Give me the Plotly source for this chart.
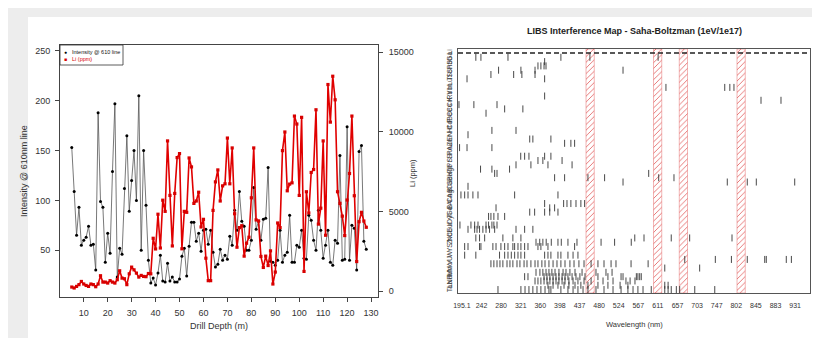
import numpy as np
import plotly.graph_objects as go

# ---------------- Left panel data ----------------
depth = list(range(5, 129))
intensity = [
    153, 109, 65, 93, 55, 60, 63, 74, 55, 56,
    30, 188, 99, 93, 38, 67, 47, 129, 197, 23,
    52, 46, 112, 165, 89, 120, 150, 100, 205, 50,
    150, 95, 40, 17, 22, 15, 27, 45, 19, 18,
    37, 19, 23, 18, 18, 21, 44, 52, 24, 54,
    78, 78, 59, 67, 49, 70, 71, 56, 70, 48,
    33, 36, 51, 40, 45, 41, 64, 55, 90, 70,
    109, 79, 74, 50, 50, 60, 113, 71, 79, 60,
    81, 82, 133, 39, 38, 35, 40, 70, 38, 45,
    48, 85, 38, 38, 55, 53, 70, 42, 41, 85,
    80, 60, 50, 90, 70, 42, 55, 70, 38, 35,
    60, 57, 145, 40, 41, 174, 40, 75, 72, 30,
    149, 155, 59, 51,
]
li_ppm = [
    250, 190, 290, 400, 600, 440, 350, 290, 440, 400,
    270, 440, 960, 560, 560, 500, 650, 560, 500, 710,
    1270, 810, 770, 400, 1080, 1500, 1330, 1125, 875, 980,
    915, 900, 1100, 1080, 3310, 2640, 4820, 2700, 5700, 5000,
    9420, 6000, 2830, 6125, 8375, 8625, 2650, 5000, 4940, 8350,
    7790, 5500, 5650, 6200, 4020, 4500, 2060, 650, 650, 5060,
    6850, 7600, 5650, 6600, 6730, 9600, 6730, 8980, 4850, 2750,
    3980, 4100, 2190, 3000, 3375, 5850, 8980, 4460, 4400, 2170,
    1480, 2190, 1600, 2520, 440, 1190, 4270, 3980, 8810, 9980,
    6290, 6710, 6790, 10980, 10480, 6000, 10900, 1230, 6230, 4900,
    7440, 7625, 11375, 4200, 5200, 9420, 3500, 12960, 10600, 13480,
    12000, 6230, 5500, 4700, 3480, 5710, 7375, 10980, 5980, 1850,
    4350, 4940, 4390, 4000,
]
left_xticks = [10, 20, 30, 40, 50, 60, 70, 80, 90, 100, 110, 120, 130]
left_yticks = [50, 100, 150, 200, 250]
right_yticks = [0, 5000, 10000, 15000]

# ---------------- Right panel data ----------------
wl_tick_labels = ["195.1", "242", "280", "321", "360", "398", "437", "480", "524",
                  "567", "611", "657", "703", "747", "802", "845", "883", "931"]
wl_tick_nm = [195.1, 242, 280, 321, 360, 398, 437, 480, 524,
              567, 611, 657, 703, 747, 802, 845, 883, 931]
li_lines_nm = [460.3, 610.4, 670.8, 812.6]

elements = ["Li", "Ga", "Sb", "Pb", "Sn", "Sc", "Tl", "Lu", "In", "Yb", "Rb", "K", "Cr",
            "Cs", "Ce", "Be", "P", "Cd", "Hf", "Ni", "Er", "Zn", "Au", "Re", "Sr", "Si",
            "Pr", "Tb", "Hg", "Ba", "Ge", "Ca", "Bi", "Ag", "Cu", "Al", "B", "Gd", "Ti",
            "Dy", "Ir", "Eu", "Co", "Nb", "Zr", "S", "Y", "W", "U", "V", "Mo", "Mn",
            "Fe", "Nd", "La", "Ta"]

# interfering line positions (spectral bin units, one bin per axis label)
interference = {
    "Ga": [0.71, 0.97, 2.35, 5.05, 6.53, 10.01],
    "Sb": [4.22],
    "Pb": [3.88, 4.03, 4.19, 4.29],
    "Sn": [1.87, 3.01, 3.73, 8.22],
    "Sc": [1.48, 2.64, 3.06, 3.73],
    "Tl": [0.26, 4.22],
    "In": [10.41, 13.41, 13.67, 13.88],
    "Rb": [4.22],
    "K": [15.26, 16.28],
    "Cr": [-0.15, 0.61, 1.79],
    "Cs": [2.18, 3.11],
    "Ce": [1.23],
    "Hf": [1.53, 2.76],
    "Ni": [0.31],
    "Er": [3.46, 3.62, 4.54],
    "Zn": [5.24, 5.56, 5.75],
    "Au": [-0.12, 0.26, 1.53],
    "Sr": [3.00, 3.20, 3.42, 4.22, 4.54],
    "Si": [3.88, 4.13, 5.11],
    "Pr": [2.76, 3.52, 4.39, 5.62],
    "Tb": [0.95, 1.53, 2.43],
    "Hg": [1.67, 1.79, 9.53],
    "Ba": [4.73, 5.24, 6.43, 7.28, 10.04, 10.82],
    "Ge": [8.22, 13.54, 14.56, 15.02, 16.98],
    "Ca": [0.31],
    "Ag": [-0.05, 0.14, 0.31, 0.56, 0.82, 2.69, 4.90],
    "Al": [4.22, 5.19, 5.36, 5.56, 5.82, 6.07, 6.26],
    "B": [1.74, 4.48, 4.73],
    "Gd": [3.46, 3.71, 4.22, 4.48, 4.90],
    "Ti": [1.36, 1.48, 1.63, 1.84, 2.18],
    "Ir": [-0.10, 0.46, 0.65, 0.82, 1.23, 1.36, 1.53, 1.63, 1.79],
    "Eu": [0.31, 0.65, 0.77, 0.90, 1.07, 1.23, 1.41, 1.67, 2.76, 3.20, 3.62],
    "Nb": [0.71, 0.90, 1.16, 2.09, 2.60, 3.01, 8.82, 9.29, 10.68, 11.62, 13.78],
    "Zr": [3.78, 3.97, 4.13, 4.30, 4.56, 4.90, 5.07, 5.41, 5.87, 7.10, 7.79, 8.64],
    "S": [0.14, 0.31, 0.90, 0.97, 1.58, 1.74, 1.99, 2.18, 2.35, 2.60, 2.69, 2.86,
          3.01, 3.20, 3.37, 3.88, 4.03, 4.39, 5.75],
    "W": [0.14, 0.71, 1.92, 2.18, 2.35, 2.52, 2.69, 2.86, 3.01, 3.20, 4.22, 4.39,
          4.54, 4.90, 5.05, 5.41, 5.67, 5.92],
    "U": [11.37, 12.93, 13.75, 14.56, 15.45, 15.53, 16.55, 16.81],
    "V": [1.48, 1.63, 1.79, 1.94, 2.09, 2.30, 2.45, 2.60, 2.81, 2.96, 3.17, 3.32,
          3.52, 3.73, 3.88, 4.08, 4.24, 4.44, 4.65, 4.85, 5.05, 5.26, 5.51, 5.72,
          5.97, 6.23, 6.59, 6.94, 7.25, 7.61, 7.86, 8.63, 9.50],
    "Mo": [10.35, 12.13],
    "Mn": [3.78, 3.98, 4.13, 4.29, 4.44, 4.59, 4.75, 4.95, 5.16, 5.31, 5.51, 5.77,
           6.13, 6.84, 7.35, 7.66],
    "Fe": [3.20, 3.37, 4.19, 4.34, 4.49, 4.65, 4.80, 4.95, 5.11, 5.26, 5.41, 5.62,
           5.82, 6.02, 6.28, 6.94, 7.45, 8.12, 8.22, 8.90, 8.98, 9.07, 9.15],
    "Nd": [3.73, 3.88, 4.03, 4.19, 4.34, 4.49, 4.65, 4.80, 4.95, 5.11, 5.26, 5.46,
           5.67, 5.92, 6.23, 6.59, 7.20, 7.71, 8.37, 8.58, 8.83],
    "La": [4.39, 4.65, 4.90, 5.21, 5.46, 5.77, 6.07, 6.43, 6.94, 7.45, 8.07, 8.47,
           10.35, 10.52],
    "Ta": [1.84, 3.01, 3.22, 3.42, 3.62, 3.83, 4.03, 4.24, 4.44, 4.54, 5.05, 5.41,
           5.67, 5.92, 6.18, 6.43, 6.84, 7.25, 7.71, 8.12, 8.47, 8.73, 8.98, 9.24,
           9.66, 10.35, 10.52, 10.68, 10.94, 11.11, 11.88, 12.90],
}

# ---------------- layout helpers ----------------
W, H = 820, 338
def fx(p):
    return p / W
def fy(p):
    return 1 - p / H

FONT = "Liberation Sans, Arial, sans-serif"
TXT = "#333333"

fig = go.Figure()

# left panel traces
fig.add_trace(go.Scatter(
    x=depth, y=intensity, mode="lines+markers", xaxis="x", yaxis="y",
    line=dict(color="#555555", width=0.8),
    marker=dict(color="black", size=3, symbol="circle"),
    showlegend=False, hoverinfo="skip"))
fig.add_trace(go.Scatter(
    x=depth, y=li_ppm, mode="lines+markers", xaxis="x", yaxis="y2",
    line=dict(color="#e00000", width=1.6),
    marker=dict(color="#d80000", size=3.2, symbol="square"),
    showlegend=False, hoverinfo="skip"))

# right panel: Li line bands
bin_idx = list(range(len(wl_tick_nm)))
li_pos = np.interp(li_lines_nm, wl_tick_nm, bin_idx)
row_lo, row_hi = -0.93, 55.8
fig.add_trace(go.Bar(
    x=li_pos, y=[row_hi - row_lo] * len(li_pos), base=row_lo, width=0.42,
    xaxis="x3", yaxis="y3",
    marker=dict(color="rgba(255,255,255,0)",
                line=dict(color="rgba(225,90,90,0.75)", width=0.6),
                pattern=dict(shape="/", fgcolor="#e25a5a", bgcolor="rgba(255,255,255,0)",
                             size=4, solidity=0.2)),
    showlegend=False, hoverinfo="skip"))

mx, my = [], []
for el, poss in interference.items():
    r = elements.index(el)
    for p in poss:
        mx.append(p)
        my.append(r)
fig.add_trace(go.Scatter(
    x=mx, y=my, mode="markers", xaxis="x3", yaxis="y3",
    marker=dict(symbol="line-ns", size=5, line=dict(color="#333333", width=0.9)),
    showlegend=False, hoverinfo="skip"))

# ---------------- axes ----------------
axcommon = dict(showgrid=False, zeroline=False, linecolor="#444444", linewidth=1,
                tickfont=dict(size=9, color=TXT, family=FONT))

fig.update_layout(
    xaxis=dict(domain=[fx(52), fx(370)], range=[0.08, 132.9], anchor="y",
               tickvals=left_xticks, ticks="outside", ticklen=4, tickcolor="#444",
               showline=True, mirror=True, ticklabelstandoff=3, **axcommon),
    yaxis=dict(domain=[fy(289), fy(37)], range=[3, 256], anchor="x",
               tickvals=left_yticks, ticks="outside", ticklen=4, tickcolor="#444",
               showline=True, mirror=True, ticklabelstandoff=3, **axcommon),
    yaxis2=dict(overlaying="y", side="right", anchor="x", range=[-375, 15440],
                tickvals=right_yticks, ticktext=[str(v) for v in right_yticks],
                ticks="outside", ticklen=4, tickcolor="#444",
                showline=False, ticklabelstandoff=4, **axcommon),
    xaxis3=dict(domain=[fx(450), fx(802)], range=[-0.2, 17.76], anchor="y3",
                tickvals=bin_idx, ticktext=wl_tick_labels, ticks="",
                showline=True, mirror=True, ticklabelstandoff=6,
                showgrid=False, zeroline=False, linecolor="#555555", linewidth=1,
                tickfont=dict(size=7, color=TXT, family=FONT)),
    yaxis3=dict(domain=[fy(285), fy(41)], range=[row_hi, row_lo], anchor="x3",
                tickvals=list(range(len(elements))), ticktext=elements, tickangle=-90,
                ticks="", showline=True, mirror=True, ticklabelstandoff=2,
                showgrid=False, zeroline=False, linecolor="#555555", linewidth=1,
                tickfont=dict(size=7, color="#444444", family=FONT)),
)

shapes = [
    dict(type="rect", xref="paper", yref="paper", x0=fx(20), x1=fx(812), y0=fy(338),
         y1=fy(9), fillcolor="white", line=dict(width=0), layer="below"),
    dict(type="rect", xref="paper", yref="paper", x0=fx(52), x1=fx(115), y0=fy(57),
         y1=fy(37), fillcolor="white", line=dict(color="#333", width=0.8)),
    dict(type="line", xref="x3 domain", yref="y3", x0=0, x1=1, y0=0, y1=0,
         line=dict(color="#222", width=1.6, dash="5px,3px")),
]

annotations = [
    dict(text="Intensity @ 610nm line", x=fx(16), y=fy(163), textangle=-90,
         font=dict(size=9, color=TXT)),
    dict(text="Drill Depth (m)", x=fx(211), y=fy(318), font=dict(size=9, color=TXT)),
    dict(text="<b>LIBS Interference Map - Saha-Boltzman (1eV/1e17)</b>", x=fx(626),
         y=fy(23), font=dict(size=9, color="#222")),
    dict(text="Wavelength (nm)", x=fx(626), y=fy(316), font=dict(size=7.5, color=TXT)),
    dict(text="Li (ppm)", x=fx(405), y=fy(165), textangle=-90,
         font=dict(size=7.5, color=TXT)),
    dict(text="●", x=fx(57), y=fy(44), font=dict(size=5, color="black")),
    dict(text="Intensity @ 610 line", x=fx(62), y=fy(44), xanchor="left",
         font=dict(size=5.5, color="#111")),
    dict(text="■", x=fx(57), y=fy(51), font=dict(size=5, color="#d80000")),
    dict(text="Li (ppm)", x=fx(62), y=fy(51), xanchor="left",
         font=dict(size=5.5, color="#d80000")),
]
for a in annotations:
    a.setdefault("xref", "paper")
    a.setdefault("yref", "paper")
    a.setdefault("showarrow", False)
    a.setdefault("xanchor", "center")
    a.setdefault("yanchor", "middle")

fig.update_layout(
    template="none",
    width=W, height=H, margin=dict(l=0, r=0, t=0, b=0, autoexpand=False),
    paper_bgcolor="#ededed", plot_bgcolor="white",
    font=dict(family=FONT, color=TXT),
    shapes=shapes, annotations=annotations, showlegend=False,
)

fig.write_html("out.html")
